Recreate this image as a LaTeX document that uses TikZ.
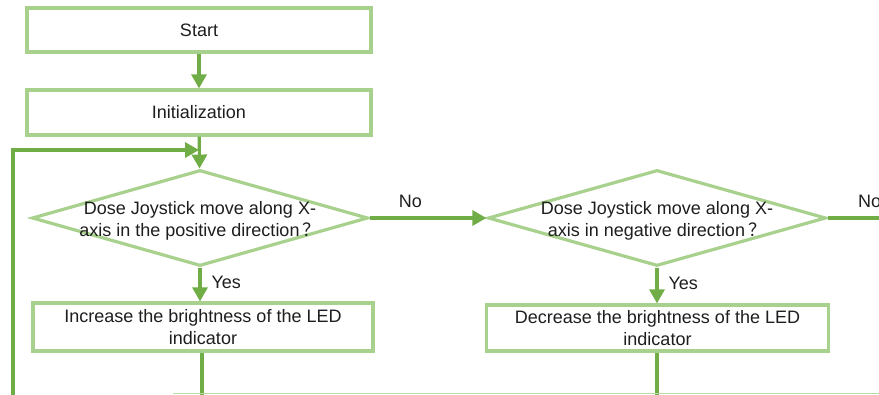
\documentclass[tikz,border=0pt]{standalone}
\usepackage{fontspec}
\setmainfont{Liberation Sans}
\newfontfamily\cjk{Noto Sans CJK SC}
\usetikzlibrary{arrows.meta,shapes.geometric}
\definecolor{boxgreen}{HTML}{A9D18E}
\definecolor{linkgreen}{HTML}{70AD47}
\definecolor{txt}{HTML}{1E1E1E}
\tikzset{
  procbox/.style={draw=boxgreen, line width=3.2pt, fill=white, inner sep=0pt,
    text=txt, align=center},
  decbox/.style={draw=boxgreen, line width=3.2pt, fill=white, shape=diamond,
    inner sep=0pt, minimum width=336pt, minimum height=96pt},
  flow/.style={draw=linkgreen, line width=3.2pt,
    -{Triangle[length=14pt,width=15pt]}},
  plain/.style={draw=linkgreen, line width=3.2pt},
  lbl/.style={text=txt, inner sep=0pt},
}
\begin{document}
\begin{tikzpicture}[x=1pt, y=-1pt, font=\fontsize{18}{21.5}\selectfont]
\useasboundingbox (0,0) rectangle (879,394);
\clip (0,0) rectangle (879,394);

% process boxes
\node[procbox, minimum width=344pt, minimum height=44pt] (start) at (199,30) {Start};
\node[procbox, minimum width=344pt, minimum height=45pt] (init) at (199,112.5) {Initialization};
\node[procbox, minimum width=340pt, minimum height=48pt] (inc) at (203,327)
  {Increase the brightness of the LED\\indicator};
\node[procbox, minimum width=342pt, minimum height=46pt] (dec) at (657.5,328)
  {Decrease the brightness of the LED\\indicator};

% decisions
\node[decbox, label={[lbl, align=center, yshift=-3pt]center:Dose Joystick move along X-\\axis in the positive direction\hspace{3pt}{\cjk ？}}] (d1) at (200,218) {};
\node[decbox, minimum width=338pt, label={[lbl, align=center, yshift=-3pt]center:Dose Joystick move along X-\\axis in negative direction\hspace{3pt}{\cjk ？}}] (d2) at (657,218) {};

% loop-back and exits
\coordinate (merge) at (init.south |- 0,150);
\coordinate (loopbot) at (13,400);
\coordinate (noexit) at (885,218);
\coordinate (incout) at (202,400);
\coordinate (decout) at (657,400);
\coordinate (nextl) at (173,393.5);
\coordinate (nextr) at (885,393.5);

% connectors
\draw[flow] (start) -- (init);
\draw[flow] (init) -- (d1);
\draw[flow] (loopbot) |- (merge);
\draw[flow] (d1.east) -- node[lbl, pos=0.35, above=9pt] {No} (d2.west);
\draw[plain] (d2.east) -- (noexit);
\node[lbl, anchor=west] (no2) at (858,201) {No};
\draw[flow] (d1.south) -- node[lbl, pos=0.45, right=10pt] {Yes} (d1.south |- inc.north);
\draw[flow] (d2.south) -- node[lbl, pos=0.45, right=10pt] {Yes} (d2.south |- dec.north);
\draw[plain] (inc.south -| incout) -- (incout);
\draw[plain] (dec.south -| decout) -- (decout);

% edge of the following step
\draw[boxgreen!80, line width=1.5pt] (nextl) -- (nextr);
\end{tikzpicture}
\end{document}
